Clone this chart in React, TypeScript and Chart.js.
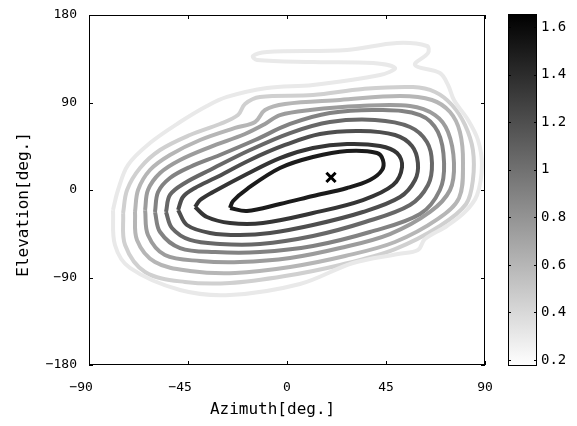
import { useEffect, useRef } from "react";
import { Chart, registerables } from "chart.js";

Chart.register(...registerables);

// ---- axes / ticks ----
const AZ_TICKS = [-90, -45, 0, 45, 90];
const EL_TICKS = [-180, -90, 0, 90, 180];
const CB_TICKS = [0.2, 0.4, 0.6, 0.8, 1.0, 1.2, 1.4, 1.6];
const CB_MIN = 0.175;
const CB_MAX = 1.655;

// ---- contour levels (outermost -> innermost) ----
const LEVELS = [0.3, 0.45, 0.6, 0.75, 0.9, 1.05, 1.2, 1.35, 1.5];

// ---- contour polylines [azimuth, elevation] ----
const C1: [number, number][] = [
  [-79.1, -20.6], [-78.2, -56.6], [-71.4, -80.2], [-48.6, -102.9], [-25.9, -108.0],
  [5.9, -96.7], [30.0, -75.1], [50.5, -65.8], [59.5, -61.7], [62.7, -50.4],
  [72.7, -37.0], [80.9, -22.6], [86.4, -5.1], [88.6, 25.7], [86.8, 51.4],
  [82.3, 72.0], [75.9, 92.6], [73.2, 108.0], [69.5, 120.3], [58.2, 128.6],
  [64.1, 140.9], [63.6, 148.1], [50.0, 151.2], [27.3, 144.0], [-9.1, 141.9],
  [-15.5, 137.8], [-13.6, 133.7], [11.8, 131.7], [39.1, 130.6], [49.1, 125.5],
  [42.3, 118.3], [11.8, 108.0], [-9.1, 104.9], [-27.3, 95.7], [-36.4, 86.4],
  [-48.6, 69.9], [-62.3, 48.3], [-72.3, 25.7], [-76.8, 0],
];
const C2: [number, number][] = [
  [-74.5, -23.7], [-73.6, -56.6], [-64.5, -84.3], [-46.4, -94.6], [-25.9, -95.7],
  [-0.9, -88.5], [24.1, -77.1], [49.1, -60.7], [69.5, -37.0], [81.4, -14.4],
  [84.5, 10.3], [84.5, 41.1], [80.9, 66.9], [75.0, 87.4], [67.3, 100.8],
  [57.3, 105.9], [34.5, 103.9], [11.8, 97.7], [-12.3, 95.7], [-19.1, 88.5],
  [-22.3, 77.1], [-30.5, 67.9], [-44.1, 56.6], [-57.7, 41.1], [-66.8, 22.6],
  [-72.7, 0],
];
const C3: [number, number][] = [
  [-69.1, -22.6], [-68.2, -51.4], [-60.0, -74.1], [-44.1, -83.3], [-23.6, -85.4],
  [1.4, -79.2], [26.4, -67.9], [49.1, -53.5], [68.6, -29.8], [78.2, -8.2],
  [80.0, 27.8], [78.6, 59.7], [74.1, 80.2], [65.9, 92.6], [51.4, 96.7],
  [24.1, 92.6], [-0.9, 88.5], [-10.0, 82.3], [-14.5, 69.9], [-23.6, 63.8],
  [-39.5, 51.4], [-53.2, 36.0], [-62.3, 20.6], [-67.7, 0],
];
const C4: [number, number][] = [
  [-64.5, -20.6], [-63.2, -46.3], [-55.5, -66.9], [-39.5, -73.0], [-21.4, -74.1],
  [1.4, -69.9], [24.1, -59.7], [46.8, -45.3], [65.0, -22.6], [74.1, 0],
  [75.9, 27.8], [73.2, 59.7], [67.3, 77.1], [55.9, 86.4], [33.2, 86.4],
  [10.5, 82.3], [-3.2, 77.1], [-10.0, 67.9], [-19.1, 57.6], [-35.0, 44.2],
  [-48.6, 30.9], [-57.7, 17.5], [-63.2, 0],
];
const C5: [number, number][] = [
  [-60.0, -22.6], [-57.7, -43.2], [-48.6, -59.7], [-32.7, -63.8], [-12.3, -63.8],
  [11.8, -57.6], [37.7, -43.2], [60.5, -24.7], [69.5, 0], [71.4, 27.8],
  [68.6, 59.7], [60.5, 77.1], [42.3, 82.3], [19.5, 79.2], [1.4, 67.9],
  [-14.5, 51.4], [-30.5, 36.0], [-44.1, 23.7], [-53.2, 12.3], [-58.6, -2.1],
];
const C6: [number, number][] = [
  [-55.0, -22.6], [-52.3, -39.1], [-44.1, -51.4], [-30.5, -55.5], [-12.3, -55.5],
  [11.8, -47.3], [35.5, -32.9], [55.9, -15.4], [64.1, 5.1], [65.9, 27.8],
  [63.6, 49.4], [55.9, 64.8], [40.0, 72.0], [19.5, 69.9], [1.4, 58.6],
  [-16.8, 41.1], [-35.0, 20.6], [-46.4, 7.2], [-53.2, -5.1],
];
const C7: [number, number][] = [
  [-49.5, -20.6], [-45.5, -36.0], [-35.0, -44.2], [-21.4, -46.3], [-7.7, -44.2],
  [11.8, -36.0], [34.5, -22.6], [51.4, -7.2], [58.2, 10.3], [59.5, 27.8],
  [56.8, 45.3], [49.1, 56.6], [33.2, 60.7], [15.0, 57.6], [-0.9, 46.3],
  [-16.8, 30.9], [-32.7, 12.3], [-41.8, 2.1], [-47.3, -7.2],
];
const C8: [number, number][] = [
  [-41.8, -17.5], [-36.4, -27.8], [-25.9, -33.9], [-10.9, -33.9], [11.8, -23.7],
  [34.5, -10.3], [48.2, 5.1], [52.3, 23.7], [50.0, 38.1], [42.3, 45.3],
  [27.3, 47.3], [11.8, 43.2], [-3.2, 32.9], [-18.2, 16.5], [-33.6, -2.1],
  [-39.5, -10.3],
];
const C9: [number, number][] = [
  [-25.9, -18.5], [-18.2, -21.6], [-3.2, -14.4], [11.8, -6.2], [27.3, 2.1],
  [37.7, 10.3], [43.2, 20.6], [43.6, 30.9], [40.9, 38.1], [27.3, 40.1],
  [11.8, 33.9], [-3.2, 22.6], [-18.2, 1.0], [-24.5, -11.3],
];
const CONTOURS = [C1, C2, C3, C4, C5, C6, C7, C8, C9];

// ---- peak marker ----
const PEAK_AZ = [20];
const PEAK_EL = [13];

const FONT = "'DejaVu Sans Mono', monospace";

function grayFor(v: number): string {
  const f = Math.min(1, Math.max(0, (v - CB_MIN) / (CB_MAX - CB_MIN)));
  const g = Math.round(255 * (1 - f));
  return `rgb(${g},${g},${g})`;
}

function fmtNum(v: number): string {
  return v < 0 ? "\u2212" + Math.abs(v) : String(v);
}

const framePlugin = {
  id: "frame",
  afterDraw(chart: any) {
    const { ctx, chartArea: a, scales } = chart;
    ctx.save();
    ctx.strokeStyle = "#000";
    ctx.lineWidth = 1;
    ctx.strokeRect(a.left + 0.5, a.top + 0.5, a.right - a.left - 1, a.bottom - a.top - 1);
    const tl = 4;
    ctx.beginPath();
    AZ_TICKS.forEach((v) => {
      const x = Math.round(scales.x.getPixelForValue(v)) + 0.5;
      ctx.moveTo(x, a.bottom);
      ctx.lineTo(x, a.bottom - tl);
      ctx.moveTo(x, a.top);
      ctx.lineTo(x, a.top + tl);
    });
    EL_TICKS.forEach((v) => {
      const y = Math.round(scales.y.getPixelForValue(v)) + 0.5;
      ctx.moveTo(a.left, y);
      ctx.lineTo(a.left + tl, y);
      ctx.moveTo(a.right, y);
      ctx.lineTo(a.right - tl, y);
    });
    ctx.stroke();
    ctx.restore();
  },
};

const cbFramePlugin = {
  id: "cbframe",
  afterDraw(chart: any) {
    const { ctx, chartArea: a, scales } = chart;
    ctx.save();
    ctx.strokeStyle = "#000";
    ctx.lineWidth = 1;
    ctx.strokeRect(a.left + 0.5, a.top + 0.5, a.right - a.left - 1, a.bottom - a.top - 1);
    const tl = 3;
    ctx.beginPath();
    CB_TICKS.forEach((v) => {
      const y = Math.round(scales.y.getPixelForValue(v)) + 0.5;
      ctx.moveTo(a.left, y);
      ctx.lineTo(a.left + tl, y);
      ctx.moveTo(a.right, y);
      ctx.lineTo(a.right - tl, y);
    });
    ctx.stroke();
    ctx.restore();
  },
};

export default function App() {
  const mainRef = useRef<HTMLCanvasElement | null>(null);
  const cbRef = useRef<HTMLCanvasElement | null>(null);

  useEffect(() => {
    if (!mainRef.current || !cbRef.current) return;

    const contourSets = CONTOURS.map((pts, i) => ({
      data: [...pts, pts[0]].map(([x, y]) => ({ x, y })),
      showLine: true,
      borderColor: grayFor(LEVELS[i]),
      backgroundColor: grayFor(LEVELS[i]),
      borderWidth: 4,
      pointRadius: 0,
      tension: 0.35,
      fill: false,
    }));

    const peakSet = {
      data: PEAK_AZ.map((x, i) => ({ x, y: PEAK_EL[i] })),
      showLine: false,
      pointStyle: "crossRot",
      pointRadius: 6.5,
      borderWidth: 3,
      borderColor: "#000",
      backgroundColor: "#000",
    };

    const main = new Chart(mainRef.current, {
      type: "scatter",
      data: { datasets: [...contourSets, peakSet] as any },
      options: {
        animation: false,
        responsive: false,
        events: [],
        layout: { padding: { left: 0, right: 92, top: 15, bottom: 0 } },
        plugins: { legend: { display: false }, tooltip: { enabled: false } },
        scales: {
          x: {
            type: "linear",
            min: -90,
            max: 90,
            afterBuildTicks: (s: any) => {
              s.ticks = AZ_TICKS.map((value) => ({ value }));
            },
            afterFit: (s: any) => {
              s.height = 61;
              s.paddingLeft = 0;
              s.paddingRight = 0;
            },
            grid: { display: false, drawTicks: false },
            border: { display: false },
            ticks: {
              padding: 15,
              color: "#000",
              font: { family: FONT, size: 13 },
              maxRotation: 0,
              callback: (v: any) => (Number(v) < 0 ? fmtNum(Number(v)) + "  " : fmtNum(Number(v))),
            },
            title: {
              display: true,
              text: "Azimuth[deg.]   ",
              color: "#000",
              font: { family: FONT, size: 16 },
              padding: { top: 0, bottom: 7 },
            },
          },
          y: {
            type: "linear",
            min: -180,
            max: 180,
            afterBuildTicks: (s: any) => {
              s.ticks = EL_TICKS.map((value) => ({ value }));
            },
            afterFit: (s: any) => {
              s.width = 89;
              s.paddingTop = 0;
              s.paddingBottom = 0;
            },
            grid: { display: false, drawTicks: false },
            border: { display: false },
            ticks: {
              padding: 12,
              color: "#000",
              font: { family: FONT, size: 13 },
              callback: (v: any) => fmtNum(Number(v)),
            },
            title: {
              display: true,
              text: "Elevation[deg.]   ",
              color: "#000",
              font: { family: FONT, size: 16 },
              padding: { top: 14, bottom: 0 },
            },
          },
        },
      },
      plugins: [framePlugin],
    });

    const cb = new Chart(cbRef.current, {
      type: "bar",
      data: {
        labels: [""],
        datasets: [
          {
            data: [[CB_MIN, CB_MAX]] as any,
            borderWidth: 0,
            barPercentage: 1,
            categoryPercentage: 1,
            backgroundColor: (c: any) => {
              const area = c.chart.chartArea;
              if (!area) return "#888";
              const g = c.chart.ctx.createLinearGradient(0, area.bottom, 0, area.top);
              g.addColorStop(0, "#ffffff");
              g.addColorStop(1, "#000000");
              return g;
            },
          },
        ],
      },
      options: {
        animation: false,
        responsive: false,
        events: [],
        layout: { padding: { left: 18, right: 0, top: 14, bottom: 60 } },
        plugins: { legend: { display: false }, tooltip: { enabled: false } },
        scales: {
          x: { display: false },
          y: {
            position: "right",
            min: CB_MIN,
            max: CB_MAX,
            afterBuildTicks: (s: any) => {
              s.ticks = CB_TICKS.map((value) => ({ value }));
            },
            afterFit: (s: any) => {
              s.width = 40;
              s.paddingTop = 0;
              s.paddingBottom = 0;
            },
            grid: { display: false, drawTicks: false },
            border: { display: false },
            ticks: {
              padding: 4,
              color: "#000",
              font: { family: FONT, size: 14 },
              callback: (v: any) => String(Math.round(Number(v) * 10) / 10),
            },
          },
        },
      },
      plugins: [cbFramePlugin],
    });

    return () => {
      main.destroy();
      cb.destroy();
    };
  }, []);

  return (
    <div style={{ position: "fixed", left: 0, top: 0, width: 577, height: 426, background: "#fff" }}>
      <canvas ref={mainRef} width={577} height={426} style={{ position: "absolute", left: 0, top: 0 }} />
      <canvas ref={cbRef} width={87} height={426} style={{ position: "absolute", left: 490, top: 0 }} />
    </div>
  );
}
